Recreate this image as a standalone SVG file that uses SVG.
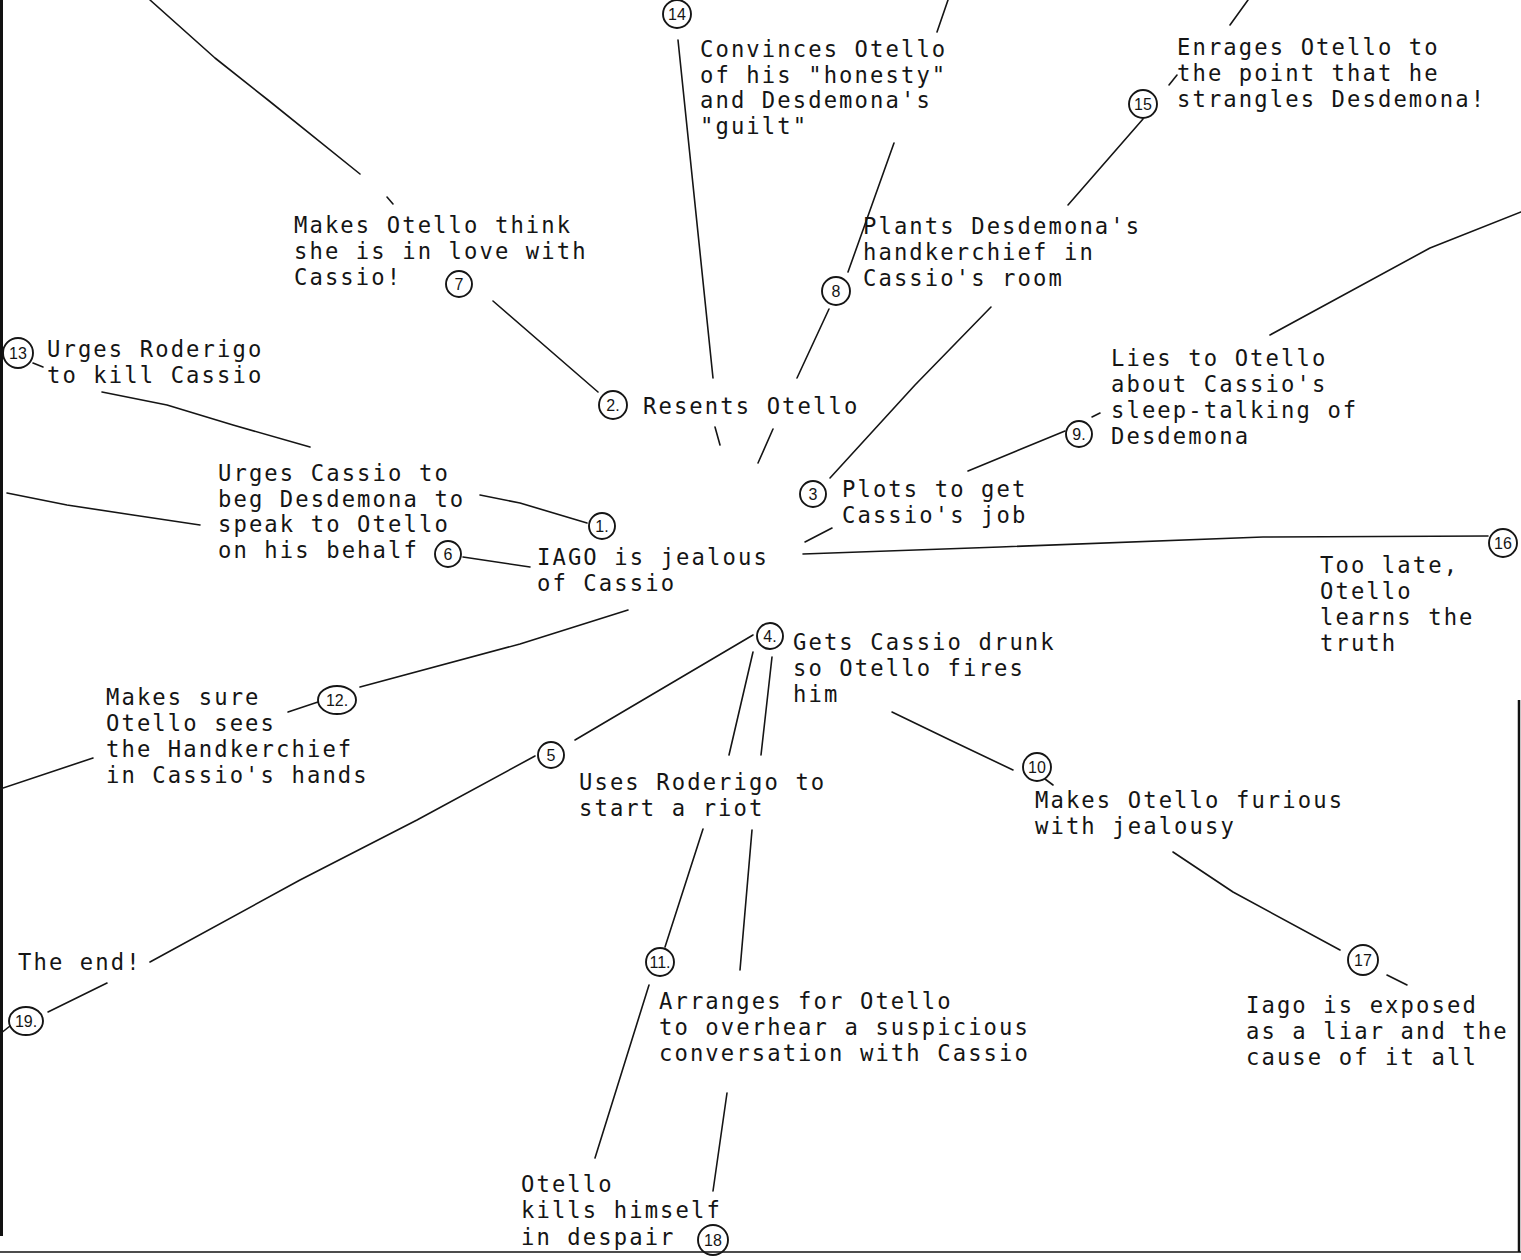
<svg xmlns="http://www.w3.org/2000/svg" width="1521" height="1260" viewBox="0 0 1521 1260">
<style>
.t{font-family:"DejaVu Sans Mono","Liberation Mono",monospace;font-size:22.2px;letter-spacing:2.1px;fill:#151515}
.c{fill:none;stroke:#151515;stroke-width:1.9}
.n{font-family:"Liberation Sans",Arial,sans-serif;font-size:16px;fill:#151515;text-anchor:middle}
.l{fill:none;stroke:#151515;stroke-width:1.6;stroke-linecap:round;stroke-linejoin:round}
.b{fill:none;stroke:#111;}
</style>
<rect width="1521" height="1260" fill="#fff"/>
<g id="border">
<rect x="0" y="0" width="3" height="1236" fill="#111"/>
<line class="b" x1="1519" y1="700" x2="1519" y2="1252" stroke-width="2.5"/>
<line class="b" x1="0" y1="1252" x2="1521" y2="1252" stroke="#bbb" stroke-width="1.5"/>
</g>
<g id="connectors">
<path class="l" d="M150,0 L215,58 L268,100 L360,174"/>
<path class="l" d="M387,197 L393,204"/>
<path class="l" d="M493,301 L598,392"/>
<path class="l" d="M678,40 L713,378"/>
<path class="l" d="M715,427 L720,445"/>
<path class="l" d="M937,32 L948,0"/>
<path class="l" d="M894,143 L848,272"/>
<path class="l" d="M829,309 L797,378"/>
<path class="l" d="M773,429 L758,463"/>
<path class="l" d="M1230,25 L1248,0"/>
<path class="l" d="M1169,85 L1177,75"/>
<path class="l" d="M1143,119 L1068,205"/>
<path class="l" d="M991,307 L915,385 L830,478"/>
<path class="l" d="M1270,335 L1430,248 L1521,212"/>
<path class="l" d="M1092,417 L1100,413"/>
<path class="l" d="M1065,431 L968,471"/>
<path class="l" d="M803,554 L1000,547 L1263,537 L1488,536"/>
<path class="l" d="M805,542 L832,528"/>
<path class="l" d="M102,392 L167,405 L233,425 L310,447"/>
<path class="l" d="M33,363 L43,367"/>
<path class="l" d="M480,495 L520,503 L587,523"/>
<path class="l" d="M7,493 L67,505 L133,515 L200,525"/>
<path class="l" d="M463,557 L530,567"/>
<path class="l" d="M628,610 L520,644 L360,687"/>
<path class="l" d="M288,712 L318,702"/>
<path class="l" d="M0,789 L93,758"/>
<path class="l" d="M753,635 L575,740"/>
<path class="l" d="M535,756 L417,820 L300,880 L150,962"/>
<path class="l" d="M48,1012 L107,983"/>
<path class="l" d="M0,1034 L10,1026"/>
<path class="l" d="M753,652 L729,755"/>
<path class="l" d="M772,657 L761,755"/>
<path class="l" d="M703,829 L665,947"/>
<path class="l" d="M649,985 L595,1158"/>
<path class="l" d="M752,830 L740,970"/>
<path class="l" d="M727,1093 L713,1191"/>
<path class="l" d="M892,712 L950,740 L1013,770"/>
<path class="l" d="M1045,779 L1053,785"/>
<path class="l" d="M1173,852 L1233,892 L1340,950"/>
<path class="l" d="M1387,975 L1407,985"/>
</g>
<g id="n1">
<circle class="c" cx="602" cy="526" r="13"/><text class="n" x="602" y="532">1.</text>
<text class="t" x="537" y="565">IAGO is jealous</text>
<text class="t" x="537" y="591">of Cassio</text>
</g>
<g id="n2">
<circle class="c" cx="613" cy="405" r="14"/><text class="n" x="613" y="411">2.</text>
<text class="t" x="643" y="414">Resents Otello</text>
</g>
<g id="n3">
<circle class="c" cx="813" cy="494" r="13"/><text class="n" x="813" y="500">3</text>
<text class="t" x="842" y="497">Plots to get</text>
<text class="t" x="842" y="523">Cassio's job</text>
</g>
<g id="n4">
<circle class="c" cx="770" cy="636" r="13"/><text class="n" x="770" y="642">4.</text>
<text class="t" x="793" y="650">Gets Cassio drunk</text>
<text class="t" x="793" y="676">so Otello fires</text>
<text class="t" x="793" y="702">him</text>
</g>
<g id="n5">
<circle class="c" cx="551" cy="755" r="13"/><text class="n" x="551" y="761">5</text>
<text class="t" x="579" y="790">Uses Roderigo to</text>
<text class="t" x="579" y="816">start a riot</text>
</g>
<g id="n6">
<circle class="c" cx="448" cy="554" r="13"/><text class="n" x="448" y="560">6</text>
<text class="t" x="218" y="481">Urges Cassio to</text>
<text class="t" x="218" y="507">beg Desdemona to</text>
<text class="t" x="218" y="532">speak to Otello</text>
<text class="t" x="218" y="558">on his behalf</text>
</g>
<g id="n7">
<circle class="c" cx="459" cy="284" r="13"/><text class="n" x="459" y="290">7</text>
<text class="t" x="294" y="233">Makes Otello think</text>
<text class="t" x="294" y="259">she is in love with</text>
<text class="t" x="294" y="285">Cassio!</text>
</g>
<g id="n8">
<circle class="c" cx="836" cy="291" r="14"/><text class="n" x="836" y="297">8</text>
<text class="t" x="863" y="234">Plants Desdemona's</text>
<text class="t" x="863" y="260">handkerchief in</text>
<text class="t" x="863" y="286">Cassio's room</text>
</g>
<g id="n9">
<circle class="c" cx="1079" cy="434" r="13"/><text class="n" x="1079" y="440">9.</text>
<text class="t" x="1111" y="366">Lies to Otello</text>
<text class="t" x="1111" y="392">about Cassio's</text>
<text class="t" x="1111" y="418">sleep-talking of</text>
<text class="t" x="1111" y="444">Desdemona</text>
</g>
<g id="n10">
<circle class="c" cx="1037" cy="767" r="14"/><text class="n" x="1037" y="773">10</text>
<text class="t" x="1035" y="808">Makes Otello furious</text>
<text class="t" x="1035" y="834">with jealousy</text>
</g>
<g id="n11">
<circle class="c" cx="660" cy="962" r="14"/><text class="n" x="660" y="968">11.</text>
<text class="t" x="659" y="1009">Arranges for Otello</text>
<text class="t" x="659" y="1035">to overhear a suspicious</text>
<text class="t" x="659" y="1061">conversation with Cassio</text>
</g>
<g id="n12">
<ellipse class="c" cx="337" cy="700" rx="19" ry="14"/><text class="n" x="337" y="706">12.</text>
<text class="t" x="106" y="705">Makes sure</text>
<text class="t" x="106" y="731">Otello sees</text>
<text class="t" x="106" y="757">the Handkerchief</text>
<text class="t" x="106" y="783">in Cassio's hands</text>
</g>
<g id="n13">
<circle class="c" cx="18" cy="353" r="15"/><text class="n" x="18" y="359">13</text>
<text class="t" x="47" y="357">Urges Roderigo</text>
<text class="t" x="47" y="383">to kill Cassio</text>
</g>
<g id="n14">
<circle class="c" cx="677" cy="14" r="14"/><text class="n" x="677" y="20">14</text>
<text class="t" x="700" y="57">Convinces Otello</text>
<text class="t" x="700" y="83">of his "honesty"</text>
<text class="t" x="700" y="108">and Desdemona's</text>
<text class="t" x="700" y="134">"guilt"</text>
</g>
<g id="n15">
<circle class="c" cx="1143" cy="104" r="14"/><text class="n" x="1143" y="110">15</text>
<text class="t" x="1177" y="55">Enrages Otello to</text>
<text class="t" x="1177" y="81">the point that he</text>
<text class="t" x="1177" y="107">strangles Desdemona!</text>
</g>
<g id="n16">
<circle class="c" cx="1503" cy="543" r="14"/><text class="n" x="1503" y="549">16</text>
<text class="t" x="1320" y="573">Too late,</text>
<text class="t" x="1320" y="599">Otello</text>
<text class="t" x="1320" y="625">learns the</text>
<text class="t" x="1320" y="651">truth</text>
</g>
<g id="n17">
<circle class="c" cx="1363" cy="960" r="15"/><text class="n" x="1363" y="966">17</text>
<text class="t" x="1246" y="1013">Iago is exposed</text>
<text class="t" x="1246" y="1039">as a liar and the</text>
<text class="t" x="1246" y="1065">cause of it all</text>
</g>
<g id="n18">
<circle class="c" cx="713" cy="1240" r="15"/><text class="n" x="713" y="1246">18</text>
<text class="t" x="521" y="1192">Otello</text>
<text class="t" x="521" y="1218">kills himself</text>
<text class="t" x="521" y="1245">in despair</text>
</g>
<g id="n19">
<ellipse class="c" cx="26" cy="1021" rx="17" ry="14"/><text class="n" x="26" y="1027">19.</text>
<text class="t" x="18" y="970">The end!</text>
</g>
</svg>
